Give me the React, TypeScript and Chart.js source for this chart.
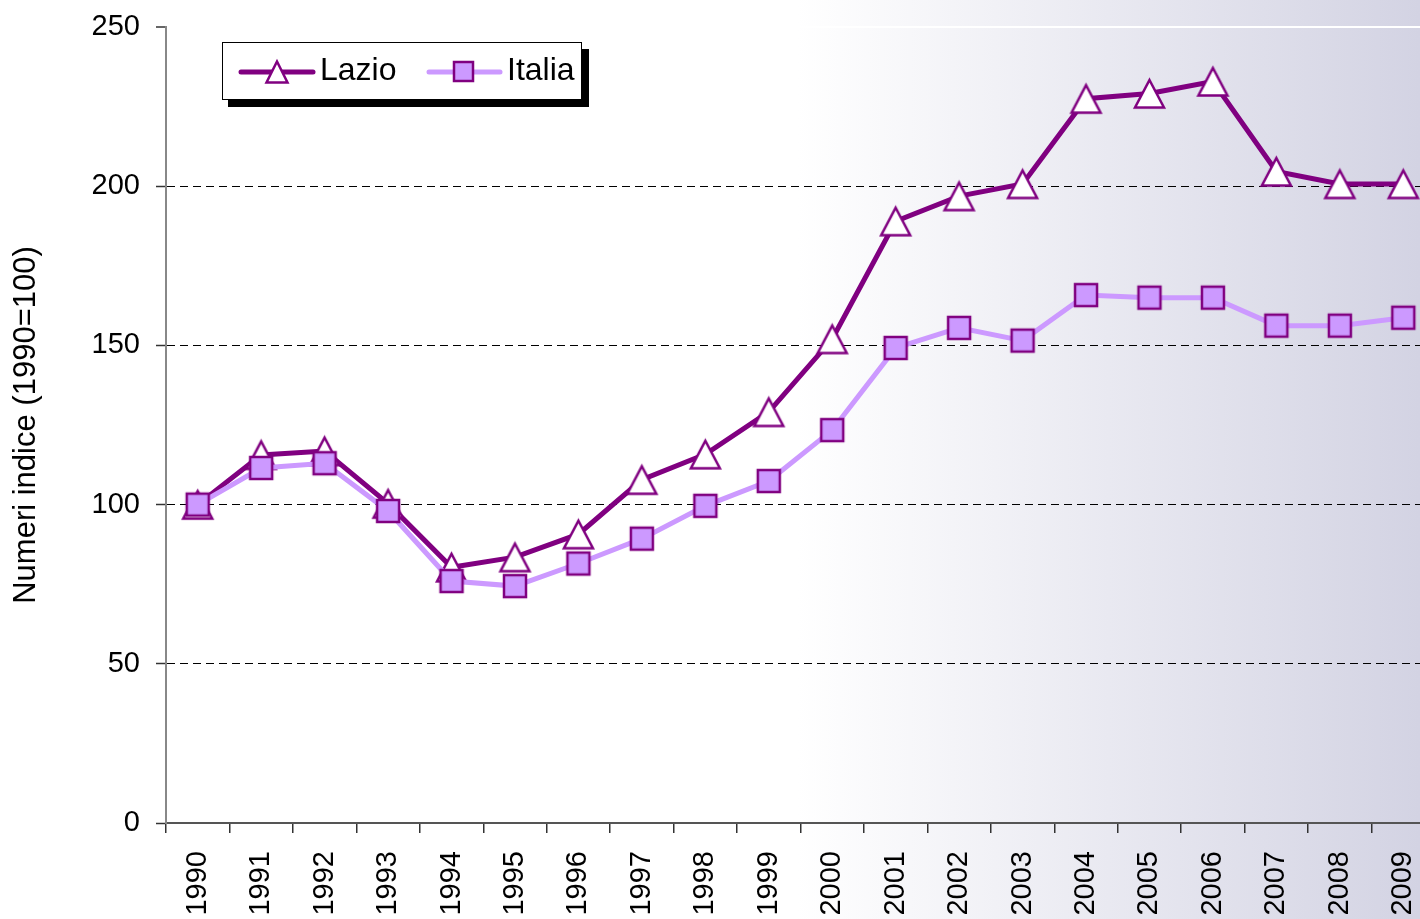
import React, { useEffect, useRef } from 'react';
import { Chart, registerables } from 'chart.js';

Chart.register(...registerables);

// ---- data ----
const years = ['1990', '1991', '1992', '1993', '1994', '1995', '1996', '1997', '1998', '1999',
  '2000', '2001', '2002', '2003', '2004', '2005', '2006', '2007', '2008', '2009'];
const lazio = [100, 115.6, 116.8, 100.3, 80.3, 83.5, 90.7, 107.8, 115.8, 129.1,
  152.0, 189.0, 196.9, 200.7, 227.5, 229.1, 232.9, 204.6, 200.7, 200.7];
const italia = [100, 111.5, 113.0, 98.0, 76.0, 74.4, 81.5, 89.3, 99.6, 107.4,
  123.4, 149.2, 155.5, 151.5, 165.8, 165.0, 165.0, 156.2, 156.2, 158.7];
const seriesNames = ['Lazio', 'Italia'];
const yTicks = [0, 50, 100, 150, 200, 250];
const yAxisTitle = 'Numeri indice (1990=100)';

const W = 1440;
const H = 919;
const FONT = "'Liberation Sans', Arial, sans-serif";
const DARK = '#800080';
const LIGHT = '#cc99ff';

function makeTriangle(w: number, h: number, lw: number) {
  const pad = 5;
  const c = document.createElement('canvas');
  c.width = w + 2 * pad;
  c.height = h + 2 * pad;
  const g = c.getContext('2d')!;
  g.beginPath();
  g.moveTo(c.width / 2, pad);
  g.lineTo(pad + w, pad + h);
  g.lineTo(pad, pad + h);
  g.closePath();
  g.fillStyle = '#ffffff';
  g.fill();
  g.lineWidth = lw;
  g.strokeStyle = DARK;
  g.stroke();
  return c;
}

function makeSquare(s: number, lw: number) {
  const pad = 3;
  const c = document.createElement('canvas');
  c.width = s + 2 * pad;
  c.height = s + 2 * pad;
  const g = c.getContext('2d')!;
  g.fillStyle = LIGHT;
  g.fillRect(pad, pad, s, s);
  g.lineWidth = lw;
  g.strokeStyle = DARK;
  g.strokeRect(pad, pad, s, s);
  return c;
}

const bgPlugin = {
  id: 'bgGradient',
  beforeDraw(chart: any) {
    const ctx = chart.ctx;
    ctx.save();
    ctx.fillStyle = '#ffffff';
    ctx.fillRect(0, 0, chart.width, chart.height);
    const x0 = 797;
    const x1 = 1420;
    const grad = ctx.createLinearGradient(x0, 0, x1, 0);
    grad.addColorStop(0, '#ffffff');
    grad.addColorStop(1, '#d3d3e3');
    ctx.fillStyle = grad;
    ctx.fillRect(x0, 0, chart.width - x0, chart.height);
    ctx.restore();
  },
};

const legendPlugin = {
  id: 'customLegend',
  afterDraw(chart: any) {
    const ctx = chart.ctx;
    const ds = chart.data.datasets;
    ctx.save();
    // shadow
    ctx.fillStyle = '#000';
    ctx.fillRect(228, 49, 361, 58);
    // box
    ctx.fillStyle = '#fff';
    ctx.fillRect(222, 42, 360, 58);
    ctx.strokeStyle = '#000';
    ctx.lineWidth = 1;
    ctx.strokeRect(222.5, 42.5, 359, 57);

    const cy = 72;
    ctx.lineCap = 'round';
    // Lazio sample
    ctx.strokeStyle = DARK;
    ctx.lineWidth = 5;
    ctx.beginPath();
    ctx.moveTo(241, cy);
    ctx.lineTo(313, cy);
    ctx.stroke();
    ctx.lineCap = 'butt';
    ctx.beginPath();
    ctx.moveTo(277, 61.5);
    ctx.lineTo(287.5, 82.5);
    ctx.lineTo(266.5, 82.5);
    ctx.closePath();
    ctx.fillStyle = '#fff';
    ctx.fill();
    ctx.lineWidth = 2.5;
    ctx.strokeStyle = DARK;
    ctx.stroke();

    // Italia sample
    ctx.lineCap = 'round';
    ctx.strokeStyle = LIGHT;
    ctx.lineWidth = 5;
    ctx.beginPath();
    ctx.moveTo(429, cy);
    ctx.lineTo(500, cy);
    ctx.stroke();
    ctx.lineCap = 'butt';
    ctx.fillStyle = LIGHT;
    ctx.fillRect(454, 62, 19, 19);
    ctx.lineWidth = 2.5;
    ctx.strokeStyle = DARK;
    ctx.strokeRect(454, 62, 19, 19);

    ctx.fillStyle = '#000';
    ctx.font = `32px ${FONT}`;
    ctx.textBaseline = 'alphabetic';
    ctx.textAlign = 'left';
    ctx.fillText(ds[0].label, 320, 80);
    ctx.fillText(ds[1].label, 507, 80);
    ctx.restore();
  },
};

function zeroPadding(s: any) {
  s.paddingTop = 0;
  s.paddingBottom = 0;
  s.paddingLeft = 0;
  s.paddingRight = 0;
}

export default function App() {
  const ref = useRef<HTMLCanvasElement | null>(null);

  useEffect(() => {
    const canvas = ref.current;
    if (!canvas) return;
    const tri = makeTriangle(29, 27.5, 2.5);
    const sq = makeSquare(22, 2.5);

    const chart = new Chart(canvas, {
      type: 'line',
      data: {
        labels: years,
        datasets: [
          {
            label: seriesNames[0],
            data: lazio,
            borderColor: DARK,
            backgroundColor: '#ffffff',
            borderWidth: 5,
            pointStyle: tri as any,
            pointRadius: 15,
            tension: 0,
            fill: false,
            order: 1,
          },
          {
            label: seriesNames[1],
            data: italia,
            borderColor: LIGHT,
            backgroundColor: LIGHT,
            borderWidth: 5,
            pointStyle: sq as any,
            pointRadius: 12,
            tension: 0,
            fill: false,
            order: 0,
          },
        ],
      },
      options: {
        responsive: false,
        animation: false,
        devicePixelRatio: 1,
        events: [],
        layout: { autoPadding: false, padding: { top: 27, right: 5, left: 0, bottom: 0 } },
        plugins: {
          legend: { display: false },
          tooltip: { enabled: false },
        },
        scales: {
          x: {
            type: 'category',
            offset: true,
            grid: {
              offset: true,
              drawOnChartArea: false,
              color: '#333',
              tickColor: '#333',
              tickLength: 10,
              lineWidth: 1.5,
              tickWidth: 1.5,
            },
            border: { color: '#555', width: 2 },
            ticks: {
              autoSkip: false,
              minRotation: 90,
              maxRotation: 90,
              padding: 18,
              color: '#000',
              font: { family: FONT, size: 29 },
            },
            afterFit: (s: any) => {
              s.height = H - 823;
              zeroPadding(s);
            },
          },
          y: {
            min: yTicks[0],
            max: yTicks[yTicks.length - 1],
            afterBuildTicks: (s: any) => {
              s.ticks = yTicks.map((v) => ({ value: v }));
            },
            ticks: {
              padding: 16,
              color: '#000',
              font: { family: FONT, size: 29 },
            },
            grid: {
              color: (c: any) => {
                const v = c.tick ? c.tick.value : -1;
                if (v === 250) return '#ffffff';
                if (v === 0) return 'rgba(0,0,0,0)';
                return '#000000';
              },
              lineWidth: (c: any) => (c.tick && c.tick.value === 250 ? 2 : 1),
              tickColor: '#333',
              tickWidth: 1.5,
              tickLength: 10,
            },
            border: {
              color: '#888',
              width: 2,
              dash: (c: any) => (c.tick && c.tick.value > 0 && c.tick.value < 250 ? [8, 5] : []),
            },
            title: {
              display: true,
              text: yAxisTitle,
              color: '#000',
              font: { family: FONT, size: 31 },
              padding: { top: 8, bottom: 0 },
            },
            afterFit: (s: any) => {
              s.width = 166;
              zeroPadding(s);
            },
          },
        },
      } as any,
      plugins: [bgPlugin, legendPlugin],
    });

    return () => {
      chart.destroy();
    };
  }, []);

  return (
    <div
      style={{
        position: 'fixed',
        left: 0,
        top: 0,
        width: 1420,
        height: 919,
        overflow: 'hidden',
        background: '#fff',
      }}
    >
      <canvas ref={ref} width={W} height={H} style={{ display: 'block', width: W, height: H }} />
    </div>
  );
}
